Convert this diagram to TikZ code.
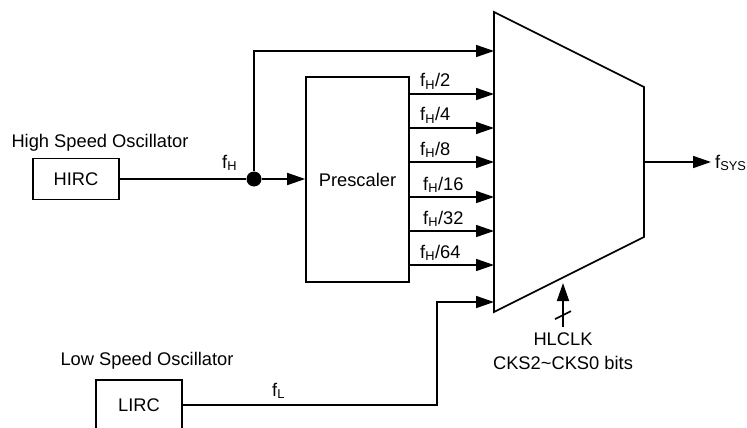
\documentclass[tikz,border=0pt]{standalone}
\usepackage{fontspec}
\setmainfont{Liberation Sans}
\usetikzlibrary{arrows.meta}
\tikzset{
  >={Triangle[length=18pt,width=12pt]},
  % blocks and text
  txt/.style={inner sep=0pt,font=\fontsize{18.3}{24}\selectfont},
  blk/.style={txt,draw,line width=1.6pt},
  lbl/.style={txt,anchor=base west},
  dotnode/.style={circle,fill,inner sep=0pt,minimum size=15pt},
  % wires
  wire/.style={line width=1.6pt},
  sig/.style={wire,->},
}
\begin{document}
\begin{tikzpicture}[x=1pt,y=-1pt]
  \useasboundingbox (0,0) rectangle (747,428);
  \clip (0,0) rectangle (747,428);
  % oscillators and prescaler
  \node[blk,minimum width=86pt,minimum height=41pt] (hirc) at (76,179) {HIRC};
  \node[txt] (hso) at (100,143) {High Speed Oscillator};
  \node[blk,minimum width=86pt,minimum height=50pt] (lirc) at (139,405) {LIRC};
  \node[txt] (lso) at (147,361) {Low Speed Oscillator};
  \node[blk,minimum width=103pt,minimum height=205pt] (pre) at (357.5,179.5) {Prescaler};
  \node[dotnode] (j) at (254,179) {};
  % multiplexer
  \coordinate (mtl) at (494,12);
  \coordinate (mtr) at (644,87);
  \coordinate (mbr) at (644,237);
  \coordinate (mbl) at (494,312);
  \draw[wire,line join=miter] (mtl) -- (mtr) -- (mbr) -- (mbl) -- cycle;
  \coordinate (m0) at (494,51);
  \coordinate (mL) at (494,302);
  \coordinate (bend) at (437,302);
  \coordinate (out) at (644,162);
  \foreach \y/\d/\lx [count=\i] in {94/2/420,128/4/420,162/8/420,197/16/423,231/32/423,265/64/420}{
    \coordinate (m\i) at (494,\y);
    \draw[sig] (pre.east |- m\i) -- (m\i);
    \node[lbl] (fd\i) at (\lx,\y-7) {f\textsubscript{H}/\d};
  }
  % high speed path
  \draw[wire] (hirc) -- (j);
  \draw[sig] (j) -- (j -| pre.west);
  \draw[sig] (j) |- (m0);
  \node[lbl] (fh) at (222,168) {f\textsubscript{H}};
  % low speed path
  \draw[sig] (lirc) -| (bend) -- (mL);
  \node[lbl] (fl) at (272,396) {f\textsubscript{L}};
  % output
  \node[lbl,inner xsep=4pt] (fsys) at (711,168) {f\textsubscript{SYS}};
  \draw[sig] (out) -- (out -| fsys.west);
  % select
  \node[txt,align=center,anchor=north,outer ysep=6pt] (sel) at (563,327) {HLCLK\\CKS2\textasciitilde CKS0 bits};
  \coordinate (seltip) at (563,283);
  \draw[sig] (sel.north) -- coordinate[pos=0.27] (tick) (seltip);
  \draw[wire] ([shift={(-8,4)}]tick) -- ([shift={(8,-4)}]tick);
\end{tikzpicture}
\end{document}
